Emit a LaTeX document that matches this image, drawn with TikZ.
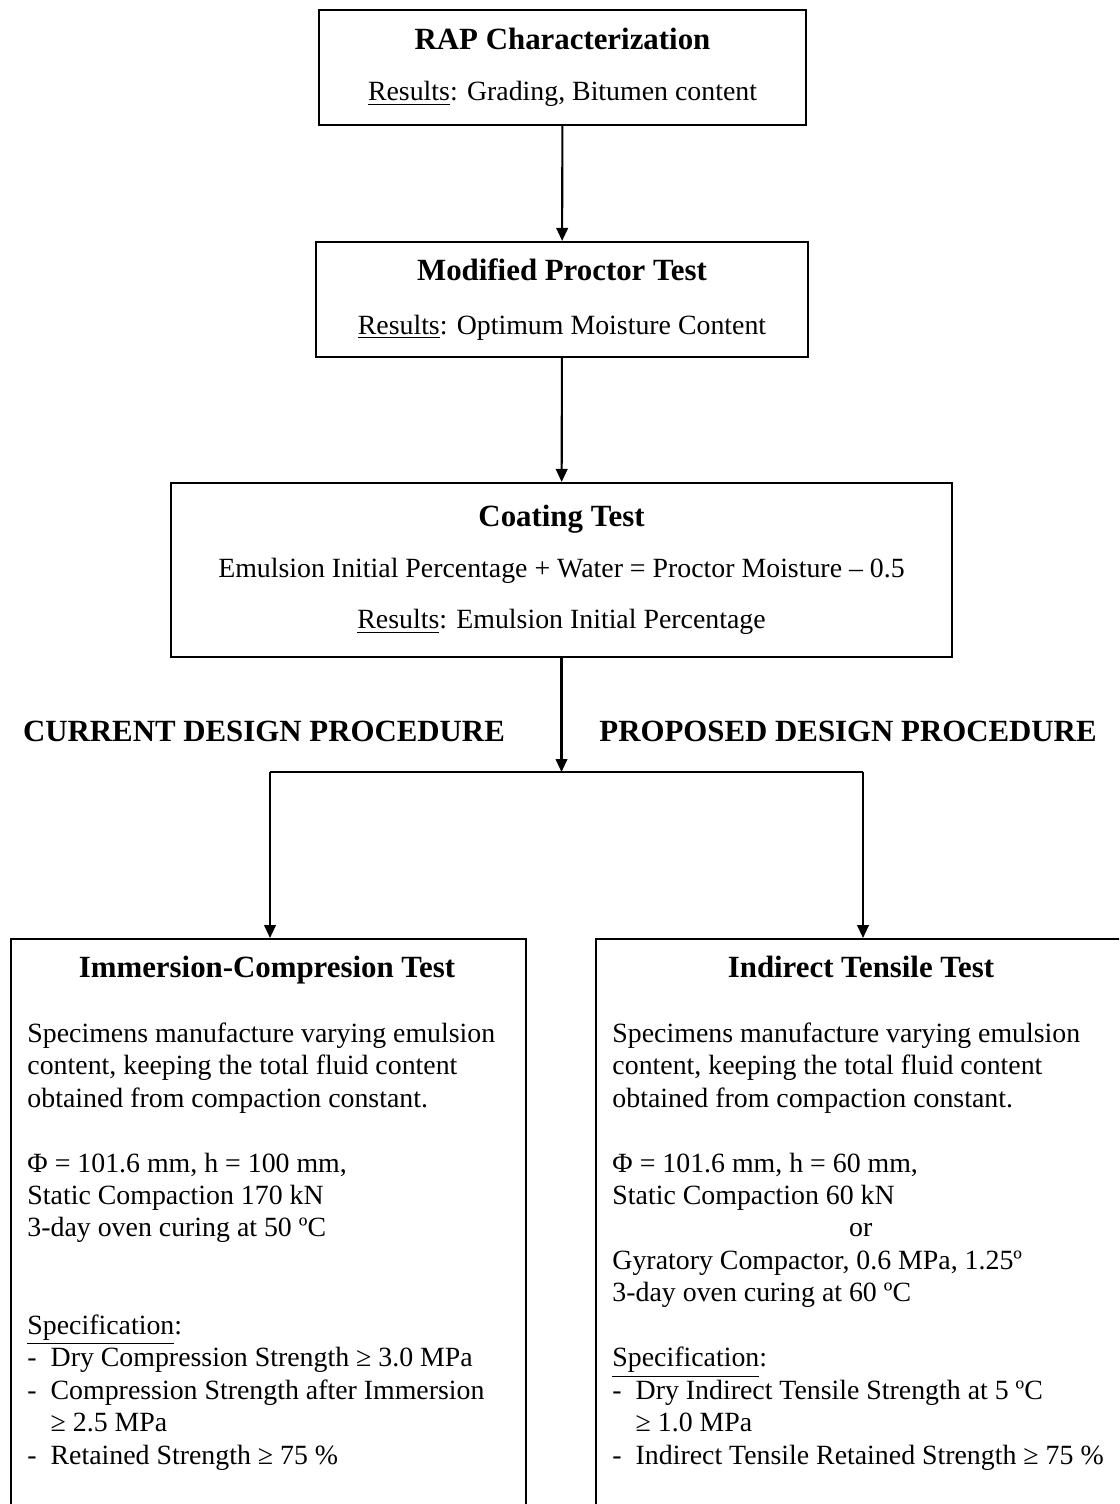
\documentclass[tikz,border=0pt]{standalone}
\usepackage{fontspec}
\setmainfont{Liberation Serif}
\usetikzlibrary{arrows.meta}

\newcommand{\stagetitle}[1]{{\fontsize{13.3}{16}\selectfont\bfseries #1}}

\begin{document}
\begin{tikzpicture}[
        x=0.431pt, y=-0.431pt,
        font=\fontsize{12}{14}\selectfont,
        stage/.style={
            % The shape:
            rectangle,
            % The border
            draw=black,
            line width=0.9pt,
            % The text
            align=center,
            inner sep=0pt
        },
        panel/.style={
            % The shape:
            rectangle,
            anchor=north west,
            % The border
            draw=black,
            line width=0.9pt,
            inner sep=0pt
        },
        body/.style={
            anchor=north west,
            align=left,
            inner sep=0pt
        },
        heading/.style={
            font=\fontsize{13.3}{16}\selectfont\bfseries
        },
        link/.style={
            line width=0.9pt,
            -{Triangle[length=5.6pt,width=5pt]}
        }]

        \useasboundingbox (0,0) rectangle (1119,1504);
        \clip (0,0) rectangle (1119,1504);

        % Upper chain
        \node [stage, minimum width=209.9pt, minimum height=49.6pt] (rap) at (562.5,67.5)
            {\stagetitle{RAP Characterization}\\[8pt]\underline{Results}: Grading, Bitumen content};
        \node [stage, minimum width=212.1pt, minimum height=49.6pt] (proctor) at (562,299.5)
            {\stagetitle{Modified Proctor Test}\\[9pt]\underline{Results}: Optimum Moisture Content};
        \node [stage, minimum width=336.6pt, minimum height=75pt] (coating) at (561.5,570)
            {\stagetitle{Coating Test}\\[8pt]Emulsion Initial Percentage + Water = Proctor Moisture – 0.5\\[8pt]\underline{Results}: Emulsion Initial Percentage};

        \draw [link] (rap) -- (proctor);
        \draw [link] (proctor) -- (coating);

        % Branching
        \coordinate (split) at (561.5,772);
        \coordinate (splitL) at (270,772);
        \coordinate (splitR) at (863,772);
        \draw [link] (coating) -- (split);
        \draw [line width=0.9pt] (splitL) -- (splitR);

        \node [heading] (current) at (264,731) {CURRENT DESIGN PROCEDURE};
        \node [heading] (proposed) at (848,731) {PROPOSED DESIGN PROCEDURE};

        % Lower panels
        \node [panel, minimum width=222pt, minimum height=301.7pt] (immersion) at (10,938) {};
        \node [panel, minimum width=229.3pt, minimum height=301.7pt] (tensile) at (595,938) {};

        \draw [link] (splitL) -- (splitL |- immersion.north);
        \draw [link] (splitR) -- (splitR |- tensile.north);

        \node [heading, anchor=base] (immersion-title) at (267,977) {Immersion-Compresion Test};
        \node [heading, anchor=base] (tensile-title) at (861,977) {Indirect Tensile Test};

        \node [body] (immersion-text) at (27,1022) {
            Specimens manufacture varying emulsion\\
            content, keeping the total fluid content\\
            obtained from compaction constant.\\[14pt]
            Φ = 101.6 mm, h = 100 mm,\\
            Static Compaction 170 kN\\
            3-day oven curing at 50 ºC\\[28pt]
            \underline{Specification}:\\
            \makebox[10pt][l]{-}Dry Compression Strength ≥ 3.0 MPa\\
            \makebox[10pt][l]{-}Compression Strength after Immersion\\
            \hspace*{10pt}≥ 2.5 MPa\\
            \makebox[10pt][l]{-}Retained Strength ≥ 75 \%};

        \node [body] (tensile-text) at (612,1022) {
            Specimens manufacture varying emulsion\\
            content, keeping the total fluid content\\
            obtained from compaction constant.\\[14pt]
            Φ = 101.6 mm, h = 60 mm,\\
            Static Compaction 60 kN\\
            \hspace*{102pt}or\\
            Gyratory Compactor, 0.6 MPa, 1.25º\\
            3-day oven curing at 60 ºC\\[14pt]
            \underline{Specification}:\\
            \makebox[10pt][l]{-}Dry Indirect Tensile Strength at 5 ºC\\
            \hspace*{10pt}≥ 1.0 MPa\\
            \makebox[10pt][l]{-}Indirect Tensile Retained Strength ≥ 75 \%};

    \end{tikzpicture}
\end{document}
